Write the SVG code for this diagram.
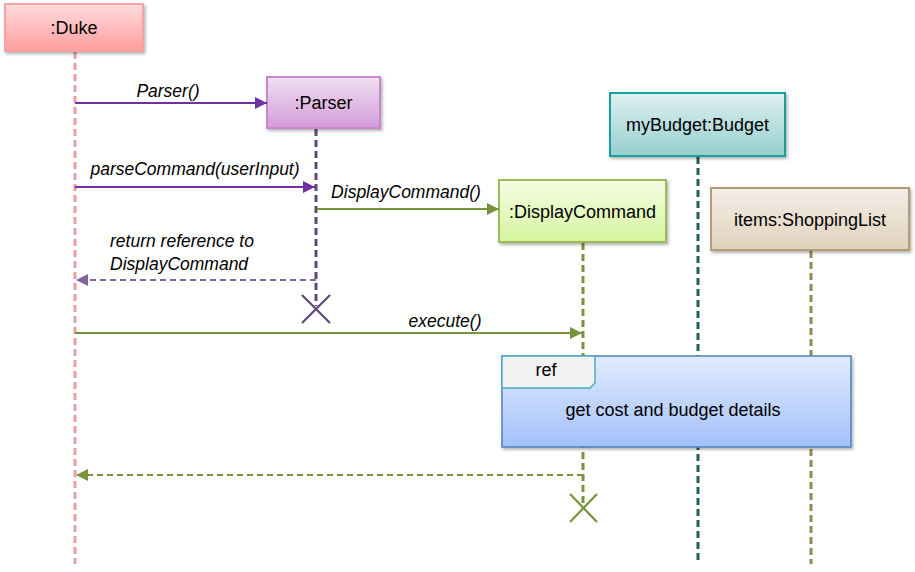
<svg xmlns="http://www.w3.org/2000/svg" width="915" height="572" viewBox="0 0 915 572">
<defs>
<linearGradient id="gDuke" x1="0" y1="0" x2="0" y2="1"><stop offset="0" stop-color="#FFDDDE"/><stop offset="1" stop-color="#FF9C9C"/></linearGradient>
<linearGradient id="gParser" x1="0" y1="0" x2="0" y2="1"><stop offset="0" stop-color="#EFE0F1"/><stop offset="1" stop-color="#D49BD8"/></linearGradient>
<linearGradient id="gBudget" x1="0" y1="0" x2="0" y2="1"><stop offset="0" stop-color="#DDF0F0"/><stop offset="1" stop-color="#97CFCE"/></linearGradient>
<linearGradient id="gDisp" x1="0" y1="0" x2="0" y2="1"><stop offset="0" stop-color="#F4FDE4"/><stop offset="1" stop-color="#D5F59E"/></linearGradient>
<linearGradient id="gShop" x1="0" y1="0" x2="0" y2="1"><stop offset="0" stop-color="#F3EEE8"/><stop offset="1" stop-color="#E1D1BA"/></linearGradient>
<linearGradient id="gRef" x1="0" y1="0" x2="0" y2="1"><stop offset="0" stop-color="#E1EBFE"/><stop offset="1" stop-color="#A3C1FA"/></linearGradient>
<filter id="sh" x="-10%" y="-10%" width="130%" height="140%"><feDropShadow dx="1.5" dy="2" stdDeviation="1.5" flood-color="#000" flood-opacity="0.3"/></filter>
<marker id="aPurple" viewBox="0 0 10 10" refX="10" refY="5" markerWidth="14" markerHeight="12" markerUnits="userSpaceOnUse" orient="auto"><path d="M0,0 L10,5 L0,10 z" fill="#7030A0"/></marker>
<marker id="aPurpleL" viewBox="0 0 10 10" refX="10" refY="5" markerWidth="14" markerHeight="12" markerUnits="userSpaceOnUse" orient="auto"><path d="M0,0 L10,5 L0,10 z" fill="#8064A2"/></marker>
<marker id="aGreen" viewBox="0 0 10 10" refX="10" refY="5" markerWidth="14" markerHeight="12" markerUnits="userSpaceOnUse" orient="auto"><path d="M0,0 L10,5 L0,10 z" fill="#77933C"/></marker>
</defs>
<style>
text{font-family:"Liberation Sans",Arial,sans-serif;font-size:18px;fill:#000}
.lbl{font-style:italic;font-size:17.5px}
.node{text-anchor:middle}
.life{fill:none;stroke-width:3;stroke-dasharray:7,4}
.msg{fill:none;stroke-width:2}
.ret{fill:none;stroke-width:2;stroke-dasharray:6,4}
</style>

<g id="lifelines">
<line class="life" x1="75" y1="52" x2="75" y2="564" stroke="#E8A0A2"/>
<line class="life" x1="316" y1="129" x2="316" y2="306" stroke="#5F497A"/>
<line class="life" x1="583" y1="243" x2="583" y2="508" stroke="#77933C"/>
<line class="life" x1="698" y1="157" x2="698" y2="564" stroke="#215F5A"/>
<line class="life" x1="811" y1="251" x2="811" y2="564" stroke="#948A54"/>
<path d="M302,295 L330,323 M330,295 L302,323" stroke="#5F497A" stroke-width="2.2" fill="none"/>
<path d="M570,494 L597,522 M597,494 L570,522" stroke="#77933C" stroke-width="2.2" fill="none"/>
</g>

<g id="duke"><rect x="5" y="4" width="138" height="47" fill="url(#gDuke)" stroke="#F4A2A2" stroke-width="2" filter="url(#sh)"/><text class="node" x="74" y="34">:Duke</text></g>
<g id="parser"><rect x="267" y="77" width="113" height="51" fill="url(#gParser)" stroke="#C986CF" stroke-width="2" filter="url(#sh)"/><text class="node" x="323.5" y="109">:Parser</text></g>
<g id="mybudget"><rect x="610" y="93" width="175" height="63" fill="url(#gBudget)" stroke="#14A09E" stroke-width="2" filter="url(#sh)"/><text class="node" x="697.5" y="131">myBudget:Budget</text></g>
<g id="displaycommand"><rect x="499" y="180" width="167" height="62" fill="url(#gDisp)" stroke="#9BBB59" stroke-width="2" filter="url(#sh)"/><text class="node" x="582.5" y="218">:DisplayCommand</text></g>
<g id="shoppinglist"><rect x="711" y="188" width="198" height="62" fill="url(#gShop)" stroke="#B09C76" stroke-width="2" filter="url(#sh)"/><text class="node" x="810" y="226">items:ShoppingList</text></g>

<g id="ref">
<rect x="502" y="356" width="349" height="91" fill="url(#gRef)" stroke="#4F81BD" stroke-width="1.5" filter="url(#sh)"/>
<path d="M502,356 L595,356 L595,383 L590,388 L502,388 Z" fill="#F2F2F2" stroke="#4BACC6" stroke-width="1.5"/>
<text class="node" x="546" y="376">ref</text>
<text class="node" x="673" y="416">get cost and budget details</text>
</g>

<g id="connectors">
<line class="msg" x1="75" y1="103" x2="267" y2="103" stroke="#7030A0" marker-end="url(#aPurple)"/>
<text class="lbl" x="168" y="97" text-anchor="middle">Parser()</text>
<line class="msg" x1="75" y1="187" x2="315" y2="187" stroke="#7030A0" marker-end="url(#aPurple)"/>
<text class="lbl" x="195" y="175" text-anchor="middle">parseCommand(userInput)</text>
<line class="msg" x1="317" y1="209" x2="499" y2="209" stroke="#77933C" marker-end="url(#aGreen)"/>
<text class="lbl" x="406" y="198" text-anchor="middle">DisplayCommand()</text>
<line class="ret" x1="316" y1="280" x2="76" y2="280" stroke="#8064A2" marker-end="url(#aPurpleL)"/>
<text class="lbl" x="110" y="247">return reference to</text>
<text class="lbl" x="110" y="270">DisplayCommand</text>
<line class="msg" x1="75" y1="333" x2="582" y2="333" stroke="#77933C" marker-end="url(#aGreen)"/>
<text class="lbl" x="445" y="327" text-anchor="middle">execute()</text>
<line class="ret" x1="583" y1="475" x2="76" y2="475" stroke="#77933C" marker-end="url(#aGreen)"/>
</g>
</svg>
